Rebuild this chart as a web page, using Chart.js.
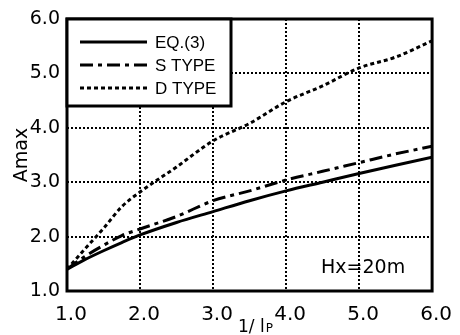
<!DOCTYPE html>
<html>
<head>
<meta charset="utf-8">
<script src="https://cdn.jsdelivr.net/npm/chart.js@4"></script>
<style>
  body { margin: 0; background: #fff; }
  canvas { display: block; }
</style>
</head>
<body>
<canvas id="c" width="460" height="335"></canvas>
<script>
// values (1/lp on x, Amax on y)
var xVals  = [1.0, 1.25, 1.5, 1.75, 2.0, 2.5, 3.0, 3.5, 4.0, 4.5, 5.0, 5.5, 6.0];
var eqVals = [1.40, 1.58, 1.74, 1.89, 2.03, 2.26, 2.46, 2.66, 2.84, 3.00, 3.16, 3.31, 3.46];
var sVals  = [1.40, 1.64, 1.84, 2.02, 2.14, 2.37, 2.66, 2.84, 3.04, 3.20, 3.36, 3.52, 3.66];
var dVals  = [1.40, 1.78, 2.15, 2.55, 2.82, 3.28, 3.76, 4.08, 4.48, 4.77, 5.10, 5.30, 5.60];
var seriesNames = ['EQ.(3)', 'S TYPE', 'D TYPE'];
var tickVals = [1, 2, 3, 4, 5, 6];
var noteText = 'Hx=20m';

function pts(ys) {
  var out = [];
  for (var i = 0; i < xVals.length; i++) out.push({x: xVals[i], y: ys[i]});
  return out;
}

var dashes = [[], [13, 5, 4, 5], [4, 3]];

// frame, legend box and the text labels
var extras = {
  id: 'extras',
  afterDraw: function(chart) {
    var ctx = chart.ctx;
    var a = chart.chartArea;
    ctx.save();
    ctx.strokeStyle = '#000';
    ctx.lineWidth = 3;
    ctx.setLineDash([]);
    ctx.strokeRect(a.left, a.top, a.right - a.left, a.bottom - a.top);

    // legend
    var lx = a.left, ly = a.top, lw = 164, lh = 87;
    ctx.fillStyle = '#fff';
    ctx.fillRect(lx, ly, lw, lh);
    ctx.strokeRect(lx, ly, lw, lh);
    ctx.font = '17px "Liberation Sans"';
    ctx.fillStyle = '#000';
    ctx.textBaseline = 'middle';
    var rows = [42, 65, 88];
    chart.data.datasets.forEach(function(ds, i) {
      ctx.beginPath();
      ctx.lineWidth = ds.borderWidth;
      ctx.setLineDash(ds.borderDash || []);
      ctx.moveTo(80, rows[i]);
      ctx.lineTo(147, rows[i]);
      ctx.stroke();
      ctx.fillText(ds.label, 155, rows[i] + 1);
    });
    ctx.setLineDash([]);

    // note
    ctx.font = '19px "DejaVu Sans"';
    ctx.textAlign = 'left';
    ctx.fillText(noteText, 321, 268);

    // y title
    ctx.save();
    ctx.translate(22, 155);
    ctx.rotate(-Math.PI / 2);
    ctx.textAlign = 'center';
    ctx.fillText('Amax', 0, 0);
    ctx.restore();

    // x title
    ctx.textBaseline = 'alphabetic';
    ctx.font = '17px "DejaVu Sans"';
    ctx.fillText('1/ l', 238, 332);
    var w = ctx.measureText('1/ l').width;
    ctx.font = '12px "DejaVu Sans"';
    ctx.fillText('P', 238 + w + 1, 332);
    ctx.restore();
  }
};

var ctx = document.getElementById('c').getContext('2d');
var chart = new Chart(ctx, {
  type: 'line',
  data: {
    datasets: [
      { label: seriesNames[0], data: pts(eqVals), borderColor: '#000', borderWidth: 3, borderDash: dashes[0] },
      { label: seriesNames[1], data: pts(sVals), borderColor: '#000', borderWidth: 3, borderDash: dashes[1] },
      { label: seriesNames[2], data: pts(dVals), borderColor: '#000', borderWidth: 3, borderDash: dashes[2] }
    ]
  },
  options: {
    responsive: false,
    animation: false,
    devicePixelRatio: 1,
    elements: {
      point: { radius: 0 },
      line: { cubicInterpolationMode: 'monotone', fill: false }
    },
    layout: { padding: { left: 0, right: 27, top: 19, bottom: 0 } },
    plugins: { legend: { display: false }, tooltip: { enabled: false } },
    scales: {
      x: {
        type: 'linear',
        min: 1, max: 6,
        afterFit: function(s) { s.height = 44; },
        afterBuildTicks: function(s) { s.ticks = tickVals.map(function(v) { return {value: v}; }); },
        ticks: {
          color: '#000',
          padding: 12,
          labelOffset: 4,
          maxRotation: 0,
          font: { family: 'DejaVu Sans', size: 20 },
          callback: function(v) { return v.toFixed(1); }
        },
        grid: { color: '#000', lineWidth: 2, drawTicks: false },
        border: { display: false, dash: [2, 2] }
      },
      y: {
        type: 'linear',
        min: 1, max: 6,
        afterFit: function(s) { s.width = 67; },
        afterBuildTicks: function(s) { s.ticks = tickVals.map(function(v) { return {value: v}; }); },
        ticks: {
          color: '#000',
          padding: 7,
          font: { family: 'DejaVu Sans', size: 19 },
          callback: function(v) { return v.toFixed(1); }
        },
        grid: { color: '#000', lineWidth: 2, drawTicks: false },
        border: { display: false, dash: [2, 2] }
      }
    }
  },
  plugins: [extras]
});
</script>
</body>
</html>
